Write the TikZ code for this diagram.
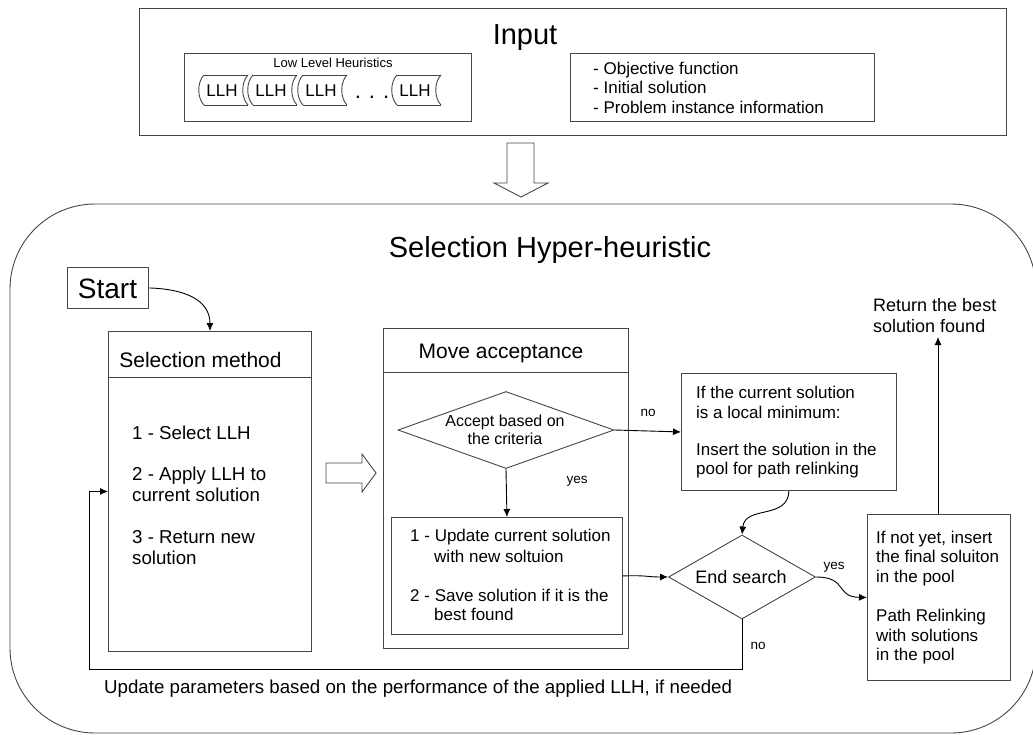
\documentclass[tikz,border=0pt]{standalone}
\usepackage{fontspec}
\setmainfont{Liberation Sans}
\usetikzlibrary{arrows.meta,shapes.geometric}
\definecolor{linec}{RGB}{70,70,70}
\tikzset{
  box/.style={draw=linec, line width=0.9pt, inner sep=0pt, anchor=north west},
  dia/.style={diamond, draw=linec, line width=0.9pt, inner sep=0pt},
  txt/.style={inner sep=0pt, anchor=west, align=left, font=\fontsize{17}{19.5}\selectfont},
  bigtxt/.style={inner sep=0pt, anchor=west, align=left, font=\fontsize{18.7}{21}\selectfont},
  lbl/.style={inner sep=0pt, font=\fontsize{13.5}{16}\selectfont},
  arr/.style={draw=black, line width=0.9pt, -{Latex[length=8pt,width=7pt]}},
  blk/.style={draw=linec, line width=0.9pt, fill=white},
  llh/.style={draw=linec, line width=0.9pt}
}
\begin{document}
\begin{tikzpicture}[x=1pt,y=-1pt]
\useasboundingbox (0,0) rectangle (1033,734);
% Input area
\node[box, minimum width=867pt, minimum height=127pt] (input) at (139,8) {};
\node[inner sep=0pt, font=\fontsize{29}{32}\selectfont] (inputt) at (525,38) {Input};
\node[box, minimum width=287pt, minimum height=68pt] (llhbox) at (184,53) {};
\node[inner sep=0pt, font=\fontsize{13}{15}\selectfont] (llht) at (333,63) {Low Level Heuristics};
\foreach \xl/\nm in {198/l1,247/l2,297/l3,391/l4}{
  \draw[llh] (\xl+6,75) .. controls (\xl-1,82) and (\xl-1,98) .. (\xl+6,105);
  \draw[llh] (\xl+6,75) -- (\xl+50,75);
  \draw[llh] (\xl+6,105) -- (\xl+50,105);
  \draw[llh] (\xl+50,75) .. controls (\xl+43,82) and (\xl+43,98) .. (\xl+50,105);
  \node[inner sep=0pt, font=\fontsize{17}{19}\selectfont] (\nm) at (\xl+24,91) {LLH};
}
\node[inner sep=0pt, font=\fontsize{22}{24}\selectfont] (dots) at (372,97) {.\hspace{8pt}.\hspace{8pt}.};
\node[box, minimum width=304pt, minimum height=68pt] (infobox) at (570,53) {};
\node[txt] (infot) at (593,87.5) {- Objective function\\- Initial solution\\- Problem instance information};
% down block arrow
\draw[blk] (507,143) -- (534,143) -- (534,183) -- (548,183) -- (521,197) -- (494,183) -- (507,183) -- cycle;
% big rounded frame
\draw[draw=linec, line width=0.9pt, rounded corners=85pt] (10,204) rectangle (1036,733);
\node[inner sep=0pt, font=\fontsize{29}{32}\selectfont] (title) at (550,250) {Selection Hyper-heuristic};
% Start
\node[box, minimum width=81pt, minimum height=41pt] (start) at (67,267) {};
\node[inner sep=0pt, font=\fontsize{28}{30}\selectfont] (startt) at (107.5,288.5) {Start};
% Selection method
\node[box, minimum width=203pt, minimum height=320pt] (selm) at (108,331) {};
\draw[draw=linec, line width=0.9pt] (108,377) -- (311,377);
\node[inner sep=0pt, font=\fontsize{21}{24}\selectfont] (selmt) at (200.5,360) {Selection method};
\node[bigtxt] (s1) at (132,433) {1 - Select LLH};
\node[bigtxt] (s2) at (132,484.5) {2 - Apply LLH to\\current solution};
\node[bigtxt] (s3) at (132,547.5) {3 - Return new\\solution};
% right block arrow
\draw[blk] (326,463) -- (362,463) -- (362,454) -- (376,473) -- (362,492) -- (362,483) -- (326,483) -- cycle;
% Move acceptance
\node[box, minimum width=245pt, minimum height=320pt] (move) at (383,328) {};
\draw[draw=linec, line width=0.9pt] (383,372) -- (628,372);
\node[inner sep=0pt, font=\fontsize{21}{24}\selectfont] (movet) at (501,353) {Move acceptance};
\node[dia, minimum width=216pt, minimum height=77pt] (d1) at (506,430) {};
\node[inner sep=0pt, align=center, font=\fontsize{16}{18}\selectfont] (d1t) at (505,430) {Accept based on\\the criteria};
\node[box, minimum width=231pt, minimum height=117pt] (upd) at (391,517) {};
\node[txt] (u1) at (410,537) {1 - Update current solution};
\node[txt] (u2) at (434,556) {with new soltuion};
\node[txt] (u3) at (410,595) {2 - Save solution if it is the};
\node[txt] (u4) at (434,614) {best found};
% local minimum box
\node[box, minimum width=215pt, minimum height=117pt] (ifb) at (681,373) {};
\node[txt] (i1) at (696,402.5) {If the current solution\\is a local minimum:};
\node[txt] (i2) at (696,460.5) {Insert the solution in the\\pool for path relinking};
% End search
\node[dia, minimum width=147pt, minimum height=84pt] (d2) at (742,577) {};
\node[inner sep=0pt, font=\fontsize{18}{20}\selectfont] (d2t) at (741,577) {End search};
% final box
\node[box, minimum width=143pt, minimum height=166pt] (fin) at (867,514) {};
\node[txt] (f1) at (876,558.5) {If not yet, insert\\the final soluiton\\in the pool};
\node[txt] (f2) at (876,637) {Path Relinking\\with solutions\\in the pool};
\node[inner sep=0pt, anchor=west, align=left, font=\fontsize{18}{21}\selectfont] (ret) at (873,315.5) {Return the best\\solution found};
\coordinate (rettip) at (938,337);
\coordinate (loopL) at (89,669);
% labels
\node[lbl] (no1) at (648,413) {no};
\node[lbl] (yes1) at (577,481) {yes};
\node[lbl] (yes2) at (834,567) {yes};
\node[lbl] (no2) at (758,646) {no};
\node[bigtxt] (updp) at (104,689) {Update parameters based on the performance of the applied LLH, if needed};
% connectors
\draw[arr] (start.east) .. controls (185,289) and (210,300) .. (selm.north);
\draw[arr] (d1.south) -- (upd.north);
\draw[arr] (d1.east) -- (ifb.west);
\draw[arr] (ifb.south) .. controls (788,520) and (745,505) .. (d2.north);
\draw[arr] (upd.east) .. controls (645,575) and (648,577) .. (d2.west);
\draw[arr] (d2.east) .. controls (848,577) and (835,597) .. (fin.west);
\draw[arr] (fin.north -| rettip) -- (rettip);
\draw[arr] (d2.south) |- (loopL) |- (selm.west);
\end{tikzpicture}
\end{document}
